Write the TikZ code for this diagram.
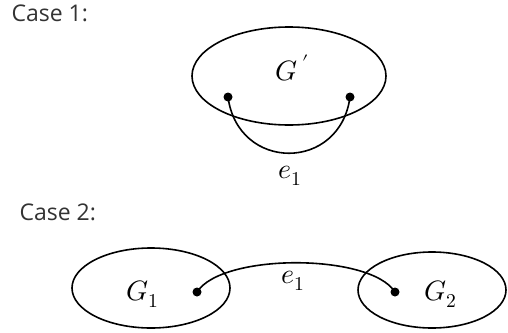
\documentclass[tikz,border=0pt]{standalone}
\usepackage{fontspec}
\setmainfont{Open Sans}
\usepackage{amsmath}
\usepackage{unicode-math}
\setmathfont{Latin Modern Math}
\usetikzlibrary{shapes.geometric}

\begin{document}
\begin{tikzpicture}[x=1pt, y=-1pt,
  graphline/.style={line width=1.6pt},
  vdot/.style={circle, fill=black, inner sep=0pt, minimum size=9pt},
  caselabel/.style={anchor=north west, font=\fontsize{23}{27}\selectfont\color{black!80}},
  mathlabel/.style={font=\fontsize{28}{32}\selectfont}]

\useasboundingbox (0,0) rectangle (508,332);

%% ------------------------------------------------------------------
%% Case 1 -- one graph G', the edge e1 leaves and comes back into it
%% ------------------------------------------------------------------
\node[caselabel] (caseone) at (8,1) {Case 1:};

\draw[graphline] (289,76) ellipse [x radius=97, y radius=49];
\node[mathlabel] (gprime) at (292,68) {$G\,{}^{\prime}$};

\node[vdot] (ua) at (228,97) {};
\node[vdot] (va) at (350,97) {};
\draw[graphline] (ua.center) .. controls (238,172) and (340,172) .. (va.center);
\node[mathlabel] (eone) at (290,176) {$e_1$};

%% ------------------------------------------------------------------
%% Case 2 -- two graphs G1 and G2, the edge e1 joins them
%% ------------------------------------------------------------------
\node[caselabel] (casetwo) at (16,200) {Case 2:};

\draw[graphline] (151,288) ellipse [x radius=79, y radius=40];
\draw[graphline] (432,290) ellipse [x radius=74, y radius=38];
\node[mathlabel] (gone) at (143,294) {$G_1$};
\node[mathlabel] (gtwo) at (441,294) {$G_2$};

\node[vdot] (ub) at (197,292) {};
\node[vdot] (vb) at (395,292) {};
\draw[graphline] (ub.center) .. controls (222,253) and (370,253) .. (vb.center);
\node[mathlabel] (etwo) at (293,281) {$e_1$};

\end{tikzpicture}
\end{document}
